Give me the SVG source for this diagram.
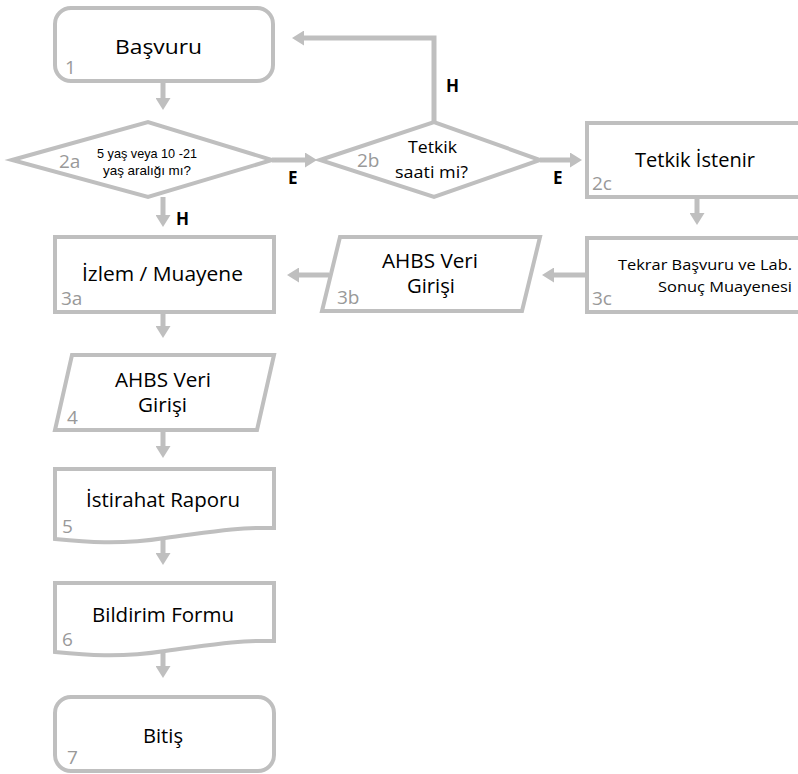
<svg xmlns="http://www.w3.org/2000/svg" width="798" height="774" viewBox="0 0 798 774">
<style>
.shape{fill:#fff;stroke:#bfbfbf;stroke-width:4}
.conn{fill:none;stroke:#bfbfbf;stroke-width:5}
.t{font-family:"Open Sans","Noto Sans",sans-serif;fill:#000}
.m{font-size:20px}
.num{font-family:"Open Sans","Noto Sans",sans-serif;font-size:19px;fill:#999}
.lbl{font-family:"Open Sans","Noto Sans",sans-serif;font-size:17px;font-weight:bold;fill:#000}
.nar{font-family:"Liberation Sans Narrow","Liberation Sans",sans-serif;font-size:13.5px;fill:#000}
</style>
<defs>
<marker id="ah" viewBox="0 0 12 15" refX="2" refY="7.5" markerWidth="12" markerHeight="15" markerUnits="userSpaceOnUse" orient="auto">
<path d="M0,0 L12,7.5 L0,15 z" fill="#bfbfbf"/>
</marker>
</defs>
<g id="connectors">
<path class="conn" d="M163,82 V100" marker-end="url(#ah)"/>
<path class="conn" d="M272,160 H307" marker-end="url(#ah)"/>
<path class="conn" d="M163,197 V217" marker-end="url(#ah)"/>
<path class="conn" d="M434,122 V38 H302" marker-end="url(#ah)"/>
<path class="conn" d="M540,160 H572" marker-end="url(#ah)"/>
<path class="conn" d="M697,197 V215" marker-end="url(#ah)"/>
<path class="conn" d="M587,275 H552" marker-end="url(#ah)"/>
<path class="conn" d="M329,275 H297" marker-end="url(#ah)"/>
<path class="conn" d="M163,312 V328" marker-end="url(#ah)"/>
<path class="conn" d="M163,430 V448" marker-end="url(#ah)"/>
<path class="conn" d="M163,537 V555" marker-end="url(#ah)"/>
<path class="conn" d="M163,650 V668" marker-end="url(#ah)"/>
<text class="lbl" x="288" y="184">E</text>
<text class="lbl" x="176" y="225">H</text>
<text class="lbl" x="446" y="92">H</text>
<text class="lbl" x="553" y="184">E</text>
</g>
<g id="n1">
<rect class="shape" x="55" y="8" width="218" height="73" rx="16"/>
<text class="t m" x="115" y="54" textLength="87" lengthAdjust="spacingAndGlyphs">Başvuru</text>
<text class="num" x="65" y="74">1</text>
</g>
<g id="n2a">
<polygon class="shape" points="12,160 148,122 272,160 148,197"/>
<text class="nar" x="97" y="158" textLength="100" lengthAdjust="spacingAndGlyphs">5 yaş veya 10 -21</text>
<text class="nar" x="103" y="175" textLength="88" lengthAdjust="spacingAndGlyphs">yaş aralığı mı?</text>
<text class="num" x="59" y="168">2a</text>
</g>
<g id="n2b">
<polygon class="shape" points="320,160 434,122 540,160 434,197"/>
<text class="t" font-size="16.5" x="408" y="153" textLength="49" lengthAdjust="spacingAndGlyphs">Tetkik</text>
<text class="t" font-size="16.5" x="395" y="178" textLength="73" lengthAdjust="spacingAndGlyphs">saati mi?</text>
<text class="num" x="357" y="167">2b</text>
</g>
<g id="n2c">
<rect class="shape" x="587" y="123" width="230" height="74"/>
<text class="t m" x="635" y="167" textLength="120" lengthAdjust="spacingAndGlyphs">Tetkik İstenir</text>
<text class="num" x="592" y="190">2c</text>
</g>
<g id="n3c">
<rect class="shape" x="587" y="238" width="230" height="74"/>
<text class="t" font-size="14.5" x="618" y="270" textLength="174" lengthAdjust="spacingAndGlyphs">Tekrar Başvuru ve Lab.</text>
<text class="t" font-size="14.5" x="658" y="292" textLength="134" lengthAdjust="spacingAndGlyphs">Sonuç Muayenesi</text>
<text class="num" x="592" y="305">3c</text>
</g>
<g id="n3b">
<polygon class="shape" points="340,237 540,237 522,311 322,311"/>
<text class="t m" x="382" y="268" textLength="96" lengthAdjust="spacingAndGlyphs">AHBS Veri</text>
<text class="t m" x="407" y="293" textLength="48" lengthAdjust="spacingAndGlyphs">Girişi</text>
<text class="num" x="337" y="304">3b</text>
</g>
<g id="n3a">
<rect class="shape" x="55" y="237" width="219" height="75"/>
<text class="t m" x="82" y="281" textLength="161" lengthAdjust="spacingAndGlyphs">İzlem / Muayene</text>
<text class="num" x="61" y="305">3a</text>
</g>
<g id="n4">
<polygon class="shape" points="72,355 274,355 257,430 55,430"/>
<text class="t m" x="115" y="387" textLength="96" lengthAdjust="spacingAndGlyphs">AHBS Veri</text>
<text class="t m" x="138" y="412" textLength="49" lengthAdjust="spacingAndGlyphs">Girişi</text>
<text class="num" x="67" y="424">4</text>
</g>
<g id="n5">
<path class="shape" d="M55,469 H274 V528 C235,527 205,533 165,538 C120,545 85,542 55,539 Z"/>
<text class="t m" x="86" y="507" textLength="154" lengthAdjust="spacingAndGlyphs">İstirahat Raporu</text>
<text class="num" x="62" y="533">5</text>
</g>
<g id="n6">
<path class="shape" d="M55,583 H274 V641 C235,640 205,646 165,651 C120,658 85,655 55,652 Z"/>
<text class="t m" x="92" y="622" textLength="142" lengthAdjust="spacingAndGlyphs">Bildirim Formu</text>
<text class="num" x="62" y="646">6</text>
</g>
<g id="n7">
<rect class="shape" x="55" y="697" width="219" height="74" rx="16"/>
<text class="t m" x="143" y="743" textLength="40" lengthAdjust="spacingAndGlyphs">Bitiş</text>
<text class="num" x="67" y="764">7</text>
</g>
</svg>
